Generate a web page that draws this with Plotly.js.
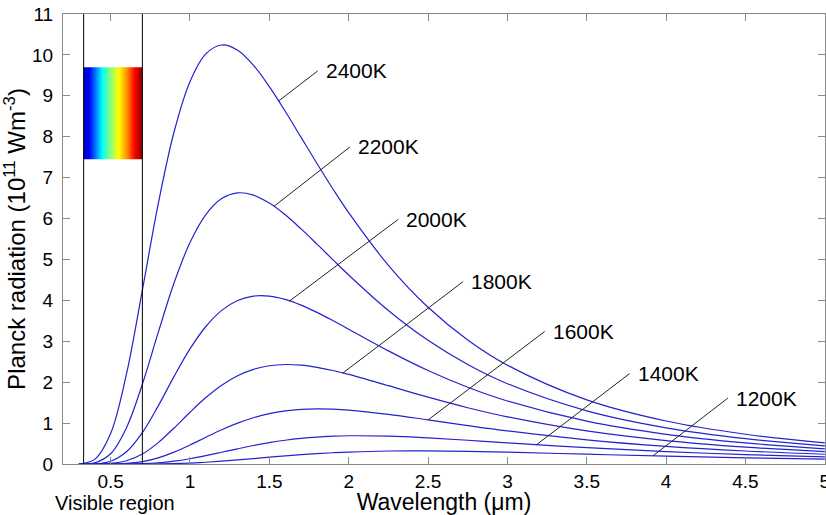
<!DOCTYPE html>
<html>
<head>
<meta charset="utf-8">
<script src="https://cdn.plot.ly/plotly-3.0.1.min.js"></script>
<style>html,body{margin:0;padding:0;background:#fff;}#chart{width:826px;height:515px;}</style>
</head>
<body>
<div id="chart"></div>
<script>
// Wavelength grid (micrometres)
const wavelength = [0.3,0.4,0.5,0.6,0.7,0.8,0.9,1.0,1.1,1.2,1.3,1.4,1.5,1.6,1.7,1.8,1.9,2.0,2.25,2.5,2.75,3.0,3.5,4.0,4.5,5.0];
// Planck radiation (10^11 W m^-3)
const T2400 = [0.003,0.113,0.743,2.202,4.249,6.358,8.121,9.345,10.025,10.242,10.115,9.746,9.224,8.622,7.985,7.347,6.728,6.143,4.857,3.831,3.032,2.415,1.568,1.051,0.727,0.517];
const T2200 = [0.0005,0.029,0.250,0.888,1.950,3.216,4.429,5.413,6.098,6.489,6.628,6.573,6.378,6.091,5.747,5.376,4.995,4.620,3.752,3.022,2.431,1.963,1.300,0.885,0.619,0.444];
const T2000 = [0.0001,0.0057,0.0675,0.299,0.766,1.420,2.141,2.813,3.361,3.756,3.998,4.105,4.105,4.024,3.885,3.707,3.507,3.295,2.765,2.285,1.876,1.540,1.046,0.725,0.514,0.372];
const T1800 = [0,0.0008,0.0137,0.0788,0.245,0.523,0.881,1.264,1.624,1.928,2.158,2.314,2.402,2.432,2.415,2.362,2.285,2.189,1.914,1.633,1.376,1.153,0.808,0.573,0.413,0.303];
const T1600 = [0,0,0.0019,0.0149,0.0587,0.150,0.290,0.465,0.654,0.837,0.999,1.131,1.231,1.298,1.336,1.349,1.342,1.319,1.215,1.080,0.940,0.809,0.591,0.431,0.318,0.238];
const T1400 = [0,0,0,0.0018,0.0094,0.0301,0.0696,0.1288,0.2035,0.2869,0.3718,0.4515,0.5219,0.5803,0.6258,0.6586,0.6795,0.6901,0.6808,0.6387,0.5806,0.5177,0.3992,0.3031,0.2301,0.1758];
const T1200 = [0,0,0,0,0.0008,0.0035,0.0104,0.0232,0.0429,0.0688,0.0995,0.1328,0.1665,0.1987,0.2281,0.2537,0.2751,0.2920,0.3178,0.3192,0.3080,0.2883,0.2395,0.1920,0.1518,0.1197];

const seriesNames = ['2400K','2200K','2000K','1800K','1600K','1400K','1200K'];
const seriesValues = [T2400,T2200,T2000,T1800,T1600,T1400,T1200];

// Visible region bounds (micrometres) and spectrum bar extent
const visibleBounds = [0.33, 0.70];
const spectrumBar = [7.45, 9.70];
const xTicks = [0.5,1,1.5,2,2.5,3,3.5,4,4.5,5];
const yTicks = [0,1,2,3,4,5,6,7,8,9,10,11];

// Leader lines: [x on curve, y on curve, x end, y end]
const leaders = [
  [1.561, 8.88, 1.805, 9.61],
  [1.530, 6.30, 2.008, 7.75],
  [1.626, 3.98, 2.312, 5.98],
  [1.962, 2.22, 2.721, 4.46],
  [2.501, 1.08, 3.235, 3.24],
  [3.183, 0.47, 3.770, 2.21],
  [3.917, 0.20, 4.389, 1.61]
];

const FONT = 'Liberation Sans, Arial, Helvetica, sans-serif';
const lineColor = 'rgb(35,35,205)';
const axisGray = '#8a8a8a';

const traces = seriesValues.map((vals, i) => ({
  type: 'scatter', mode: 'lines', x: wavelength, y: vals, name: seriesNames[i],
  line: {color: lineColor, width: 1.2, shape: 'spline', smoothing: 1},
  hoverinfo: 'x+y+name', showlegend: false
}));

// Spectrum gradient box
traces.push({
  type: 'scatter', mode: 'none',
  x: [visibleBounds[0], visibleBounds[1], visibleBounds[1], visibleBounds[0], visibleBounds[0]],
  y: [spectrumBar[0], spectrumBar[0], spectrumBar[1], spectrumBar[1], spectrumBar[0]],
  fill: 'toself',
  fillgradient: {
    type: 'horizontal',
    colorscale: [
      [0, 'rgb(0,0,190)'], [0.1, 'rgb(0,0,255)'], [0.32, 'rgb(0,255,255)'],
      [0.45, 'rgb(130,255,130)'], [0.6, 'rgb(255,255,0)'], [0.73, 'rgb(255,150,0)'],
      [0.87, 'rgb(255,0,0)'], [1, 'rgb(130,0,0)']
    ]
  },
  hoverinfo: 'skip', showlegend: false
});

const shapes = [];
visibleBounds.forEach(v => shapes.push({
  type: 'line', xref: 'x', yref: 'paper', x0: v, x1: v, y0: 0, y1: 1,
  line: {color: '#000', width: 1}
}));
leaders.forEach(l => shapes.push({
  type: 'line', xref: 'x', yref: 'y', x0: l[0], y0: l[1], x1: l[2], y1: l[3],
  line: {color: '#222', width: 1}
}));

const annotations = leaders.map((l, i) => ({
  x: l[2], y: l[3], xref: 'x', yref: 'y', text: seriesNames[i], showarrow: false,
  xanchor: 'left', yanchor: 'middle', xshift: 6,
  font: {family: FONT, size: 21, color: '#000'}
}));
annotations.push({
  x: (115 - 63) / 762, y: -(503 - 464) / 450, xref: 'paper', yref: 'paper',
  xanchor: 'center', yanchor: 'middle',
  text: 'Visible region', showarrow: false,
  font: {family: FONT, size: 20, color: '#000'}
});

const layout = {
  width: 826, height: 515,
  margin: {l: 63, r: 1, t: 14, b: 51},
  paper_bgcolor: '#fff', plot_bgcolor: '#fff',
  font: {family: FONT, size: 19, color: '#000'},
  xaxis: {
    range: [0.2, 5.001], tickvals: xTicks, ticktext: xTicks.map(String),
    ticks: 'inside', ticklen: 7, tickcolor: axisGray, tickwidth: 1,
    showline: true, linecolor: axisGray, linewidth: 1, mirror: 'ticks',
    showgrid: false, zeroline: false, ticklabeloverflow: 'allow',
    tickfont: {family: FONT, size: 19, color: '#000'},
    title: {text: 'Wavelength (μm)', font: {family: FONT, size: 23, color: '#000'}, standoff: 1}
  },
  yaxis: {
    range: [0, 11], tickvals: yTicks,
    ticks: 'inside', ticklen: 7, tickcolor: axisGray, tickwidth: 1,
    showline: true, linecolor: axisGray, linewidth: 1, mirror: 'ticks',
    showgrid: false, zeroline: false, ticklabelstandoff: 5,
    tickfont: {family: FONT, size: 19, color: '#000'},
    title: {text: 'Planck radiation (10<sup>11</sup> Wm<sup>-3</sup>)', font: {family: FONT, size: 24, color: '#000'}, standoff: 0}
  },
  shapes: shapes,
  annotations: annotations
};

Plotly.newPlot('chart', traces, layout, {displayModeBar: false, staticPlot: true});
</script>
</body>
</html>
